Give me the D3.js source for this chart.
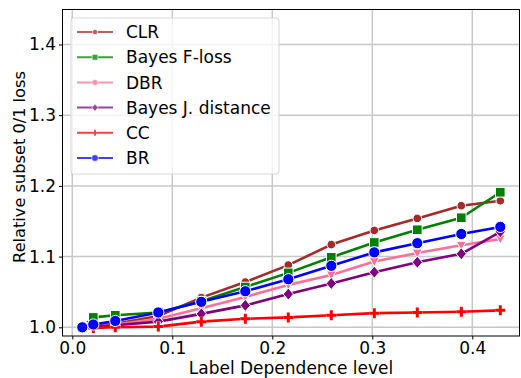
<!DOCTYPE html>
<html>
<head>
<meta charset="utf-8">
<script src="https://cdn.jsdelivr.net/npm/d3@7"></script>
<style>
  body { margin: 0; background: #fff; }
  text { font-family: "DejaVu Sans", sans-serif; }
</style>
</head>
<body>
<div class="plot-1"></div>
<script>
/* dados */
var xLevels = [0.01, 0.021, 0.043, 0.086, 0.129, 0.173, 0.216, 0.259, 0.302, 0.345, 0.389, 0.428];
var clr    = [1.000, 1.002, 1.005, 1.016, 1.042, 1.064, 1.088, 1.117, 1.137, 1.154, 1.172, 1.179];
var bayesF = [1.000, 1.014, 1.017, 1.021, 1.037, 1.057, 1.077, 1.099, 1.120, 1.138, 1.155, 1.191];
var dbr    = [1.000, 1.001, 1.004, 1.012, 1.027, 1.043, 1.060, 1.074, 1.093, 1.105, 1.116, 1.125];
var bayesJ = [1.000, 1.001, 1.003, 1.008, 1.019, 1.031, 1.047, 1.062, 1.078, 1.092, 1.104, 1.135];
var cc     = [1.000, 0.999, 1.000, 1.001, 1.008, 1.012, 1.014, 1.017, 1.020, 1.021, 1.022, 1.024];
var br     = [1.000, 1.004, 1.009, 1.021, 1.036, 1.051, 1.068, 1.087, 1.106, 1.119, 1.132, 1.142];

var seriesNames = ['CLR', 'Bayes F-loss', 'DBR', 'Bayes J. distance', 'CC', 'BR'];
var seriesValues = [clr, bayesF, dbr, bayesJ, cc, br];
var xTicks = [0.0, 0.1, 0.2, 0.3, 0.4];
var yTicks = [1.0, 1.1, 1.2, 1.3, 1.4];

var estilos = [
  { cor: '#a52a2a', marca: 'circle',   tam: 4.3 },
  { cor: '#008000', marca: 'square',   tam: 4.8 },
  { cor: '#ff7096', marca: 'triangle', tam: 5 },
  { cor: '#800080', marca: 'diamond',  tam: 6 },
  { cor: '#ff0000', marca: 'plus',     tam: 5 },
  { cor: '#0000ff', marca: 'circle',   tam: 5.6 }
];

var svgDims = { width: 521, height: 378 };
var area = { left: 62.5, right: 519.5, top: 9.5, bottom: 336 };
var fonte = '17px';

var svg = d3.select('.plot-1')
            .append('svg')
            .attr('width', svgDims.width)
            .attr('height', svgDims.height);

var xScale = d3.scaleLinear()
               .domain([-0.0098, 0.4472])
               .range([area.left, area.right]);
var yScale = d3.scaleLinear()
               .domain([0.9877, 1.4495])
               .range([area.bottom, area.top]);

// grade
svg.append('g').selectAll('line').data(xTicks).enter().append('line')
   .attr('x1', function(d){ return xScale(d); })
   .attr('x2', function(d){ return xScale(d); })
   .attr('y1', area.top).attr('y2', area.bottom)
   .attr('stroke', '#c8c8c8').attr('stroke-width', 1.5);
svg.append('g').selectAll('line').data(yTicks).enter().append('line')
   .attr('y1', function(d){ return yScale(d); })
   .attr('y2', function(d){ return yScale(d); })
   .attr('x1', area.left).attr('x2', area.right)
   .attr('stroke', '#c8c8c8').attr('stroke-width', 1.5);

// linhas e marcadores
function desenhaMarca(g, tipo, cx, cy, r, cor, escala) {
  escala = escala || 1;
  r = r * escala;
  if (tipo === 'circle') {
    g.append('circle').attr('cx', cx).attr('cy', cy).attr('r', r)
     .attr('fill', cor).attr('stroke', '#fff').attr('stroke-width', 1 * escala);
  } else if (tipo === 'square') {
    g.append('rect').attr('x', cx - r).attr('y', cy - r)
     .attr('width', 2 * r).attr('height', 2 * r)
     .attr('fill', cor).attr('stroke', '#fff').attr('stroke-width', 1 * escala);
  } else if (tipo === 'diamond') {
    g.append('path').attr('d', 'M' + cx + ',' + (cy - r) + 'L' + (cx + r * 0.85) + ',' + cy +
                          'L' + cx + ',' + (cy + r) + 'L' + (cx - r * 0.85) + ',' + cy + 'Z')
     .attr('fill', cor).attr('stroke', '#fff').attr('stroke-width', 1 * escala);
  } else if (tipo === 'triangle') {
    g.append('path').attr('d', 'M' + (cx - r) + ',' + (cy - r * 0.8) + 'L' + (cx + r) + ',' + (cy - r * 0.8) +
                          'L' + cx + ',' + (cy + r) + 'Z')
     .attr('fill', cor).attr('stroke', '#fff').attr('stroke-width', 1 * escala);
  } else if (tipo === 'plus') {
    g.append('path').attr('d', 'M' + (cx - r) + ',' + cy + 'H' + (cx + r) + 'M' + cx + ',' + (cy - r) + 'V' + (cy + r))
     .attr('stroke', '#fff').attr('stroke-width', 5 * escala).attr('stroke-linecap', 'butt');
    g.append('path').attr('d', 'M' + (cx - r) + ',' + cy + 'H' + (cx + r) + 'M' + cx + ',' + (cy - r) + 'V' + (cy + r))
     .attr('stroke', cor).attr('stroke-width', 3 * escala).attr('stroke-linecap', 'butt');
  }
}

var linha = d3.line()
              .x(function(d){ return xScale(d[0]); })
              .y(function(d){ return yScale(d[1]); });

seriesValues.forEach(function(vals, s) {
  var pts = xLevels.map(function(x, i){ return [x, vals[i]]; });
  var g = svg.append('g');
  g.append('path').datum(pts)
   .attr('d', linha)
   .attr('fill', 'none')
   .attr('stroke', estilos[s].cor)
   .attr('stroke-width', 2.6)
   .attr('stroke-linejoin', 'round');
  pts.forEach(function(p){
    desenhaMarca(g, estilos[s].marca, xScale(p[0]), yScale(p[1]), estilos[s].tam, estilos[s].cor);
  });
});

// eixos
var xAxis = d3.axisBottom(xScale).tickValues(xTicks).tickFormat(d3.format('.1f'))
              .tickSizeOuter(0).tickSize(3.5).tickPadding(2);
var yAxis = d3.axisLeft(yScale).tickValues(yTicks).tickFormat(d3.format('.1f'))
              .tickSizeOuter(0).tickSize(3.5);

svg.append('g')
   .attr('transform', 'translate(0,' + area.bottom + ')')
   .call(xAxis)
   .call(function(g){ g.select('.domain').remove(); })
   .selectAll('text')
   .style('font-size', fonte)
   .attr('fill', '#000');

svg.append('g')
   .attr('transform', 'translate(' + area.left + ',0)')
   .call(yAxis)
   .call(function(g){ g.select('.domain').remove(); })
   .selectAll('text')
   .style('font-size', fonte)
   .attr('fill', '#000');

svg.append('rect')
   .attr('x', area.left).attr('y', area.top)
   .attr('width', area.right - area.left).attr('height', area.bottom - area.top)
   .attr('fill', 'none').attr('stroke', '#000').attr('stroke-width', 1);

// rotulos
svg.append('text')
   .attr('x', (area.left + area.right) / 2).attr('y', 373.8)
   .attr('text-anchor', 'middle')
   .style('font-size', fonte)
   .text('Label Dependence level');

svg.append('text')
   .attr('transform', 'translate(25,167) rotate(-90)')
   .attr('text-anchor', 'middle')
   .style('font-size', '16.2px')
   .text('Relative subset 0/1 loss');

// legenda
var leg = svg.append('g').attr('transform', 'translate(71,18)');
leg.append('rect')
   .attr('width', 208).attr('height', 156).attr('rx', 3)
   .attr('fill', '#fff').attr('fill-opacity', 0.8)
   .attr('stroke', '#d6d6d6');
seriesNames.forEach(function(nome, s) {
  var y = 14 + s * 25.2;
  var item = leg.append('g').attr('opacity', 0.75);
  item.append('line').attr('x1', 6).attr('x2', 42).attr('y1', y).attr('y2', y)
      .attr('stroke', estilos[s].cor).attr('stroke-width', 2);
  var m = item.append('g');
  desenhaMarca(m, estilos[s].marca === 'triangle' ? 'circle' : estilos[s].marca, 24, y, estilos[s].tam, estilos[s].cor, 0.6);
  leg.append('text').attr('x', 55).attr('y', y).attr('dy', '0.36em')
     .style('font-size', fonte)
     .text(nome);
});
</script>
</body>
</html>
